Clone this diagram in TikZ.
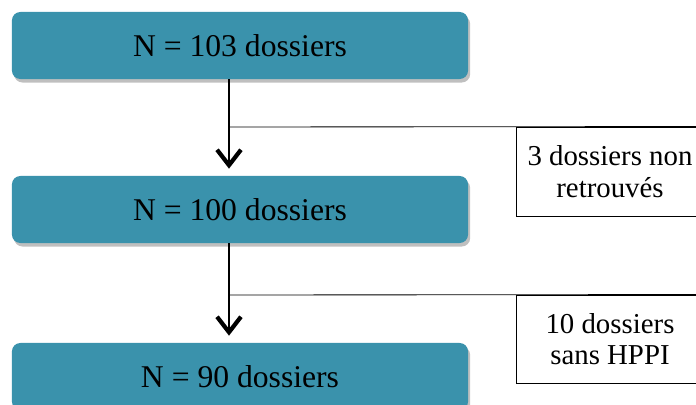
\documentclass[tikz,border=0pt]{standalone}
\usepackage{fontspec}
\setmainfont{Liberation Serif}
\usepackage{xcolor}
\usetikzlibrary{arrows.meta,shadows}
\definecolor{boxteal}{RGB}{58,146,172}

\begin{document}
\begin{tikzpicture}[x=0.025cm, y=-0.025cm,
    countbox/.style={rectangle, rounded corners=6pt, fill=boxteal,
        minimum width=11.4cm, minimum height=1.675cm,
        drop shadow={opacity=0.5, shadow xshift=1.5pt, shadow yshift=-2.5pt},
        font=\fontsize{22.5}{24}\selectfont},
    sidebox/.style={rectangle, draw=black, line width=0.6pt, fill=white,
        minimum width=4.7cm, align=center, inner sep=2pt,
        font=\fontsize{20.5}{22.5}\selectfont},
    flow/.style={line width=1.6pt, -{Straight Barb[length=11pt, width=17pt, line width=3pt]}, shorten >=5pt},
    link/.style={line width=0.6pt}]
        \useasboundingbox (0,0) rectangle (696,405);

        % main counts
        \node[countbox] (n103) at (240, 45.5) {N = 103 dossiers};
        \node[countbox] (n100) at (240, 209.5) {N = 100 dossiers};
        \node[countbox] (n90) at (240, 376.5) {N = 90 dossiers};

        % excluded files
        \node[sidebox, minimum height=2.225cm] (lost) at (610, 171.5) {3 dossiers non\\retrouvés};
        \node[sidebox, minimum height=2.2cm] (nohppi) at (610, 339) {10 dossiers\\sans HPPI};

        % junctions on the arrows
        \coordinate (j1) at (229, 127);
        \coordinate (j2) at (229, 295);

        \draw[link] (j1) -- (lost.north east);
        \draw[link] (j2) -- (nohppi.north east);
        \draw[flow] (n103.south -| j1) -- (n100.north -| j1);
        \draw[flow] (n100.south -| j2) -- (n90.north -| j2);
\end{tikzpicture}
\end{document}
